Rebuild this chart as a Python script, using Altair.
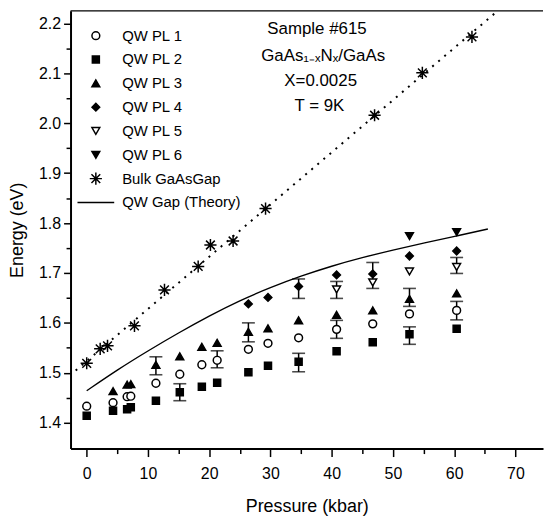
import altair as alt
import pandas as pd

# ---------------- data ----------------
series_names = ["QW PL 1", "QW PL 2", "QW PL 3", "QW PL 4", "QW PL 5",
                "QW PL 6", "Bulk GaAsGap", "QW Gap (Theory)"]

p_all = [0, 4.3, 6.6, 7.2, 11.3, 15.2, 18.8, 21.3, 26.4, 29.6, 34.6, 40.8, 46.7, 52.7, 60.4]
pl1_e = [1.433, 1.440, 1.452, 1.453, 1.479, 1.497, 1.516, 1.525, 1.547, 1.559, 1.570, 1.587, 1.598, 1.618, 1.625]
pl2_e = [1.414, 1.424, 1.427, 1.431, 1.444, 1.461, 1.472, 1.480, 1.501, 1.514, 1.522, 1.543, 1.561, 1.577, 1.588]
pl3_p = [4.3, 6.6, 7.2, 11.3, 15.2, 18.8, 21.3, 26.4, 29.6, 34.6, 40.8, 46.7, 52.7, 60.4]
pl3_e = [1.463, 1.476, 1.477, 1.516, 1.533, 1.552, 1.560, 1.582, 1.589, 1.605, 1.616, 1.625, 1.648, 1.659]
pl4_p = [26.4, 29.6, 34.6, 40.8, 46.7, 52.7, 60.4]
pl4_e = [1.638, 1.651, 1.673, 1.696, 1.698, 1.734, 1.744]
pl5_p = [40.8, 46.7, 52.7, 60.4]
pl5_e = [1.667, 1.681, 1.703, 1.712]
pl6_p = [52.7, 60.4]
pl6_e = [1.774, 1.782]
bulk_p = [0, 2.2, 3.4, 7.8, 12.7, 18.2, 20.2, 23.9, 29.2, 47.0, 54.8, 62.9]
bulk_e = [1.519, 1.548, 1.554, 1.594, 1.666, 1.713, 1.756, 1.764, 1.829, 2.016, 2.101, 2.173]
theory_p = [0, 5, 10, 15, 20, 25, 30, 35, 40, 45, 50, 55, 60, 65.5]
theory_e = [1.464, 1.506, 1.544, 1.580, 1.614, 1.645, 1.671, 1.694, 1.714, 1.731, 1.746, 1.760, 1.773, 1.788]

err_p = [11.3, 15.2, 21.3, 26.4, 34.6, 34.6, 40.8, 40.8, 46.7, 52.7, 52.7, 60.4, 60.4]
err_lo = [1.496, 1.444, 1.510, 1.562, 1.649, 1.502, 1.649, 1.569, 1.669, 1.633, 1.557, 1.699, 1.606]
err_hi = [1.532, 1.478, 1.544, 1.600, 1.688, 1.539, 1.683, 1.605, 1.721, 1.669, 1.592, 1.731, 1.643]

note_lines = ["Sample #615", "GaAs\u2081\u208b\u2093N\u2093/GaAs", "X=0.0025", "T = 9K"]
note_p = [37.6, 38.6, 38.2, 38.0]
note_e = [2.188, 2.135, 2.084, 2.034]

x_ticks = [0, 5, 10, 15, 20, 25, 30, 35, 40, 45, 50, 55, 60, 65, 70]
y_ticks = [1.4, 1.45, 1.5, 1.55, 1.6, 1.65, 1.7, 1.75, 1.8, 1.85, 1.9, 1.95, 2.0, 2.05, 2.1, 2.15, 2.2]
x_domain = [-2.64, 74.5]
y_domain = [1.348, 2.2252]

# ---------------- tables ----------------
rows = []
for name, xs, ys in [(series_names[0], p_all, pl1_e), (series_names[1], p_all, pl2_e),
                     (series_names[2], pl3_p, pl3_e), (series_names[3], pl4_p, pl4_e),
                     (series_names[4], pl5_p, pl5_e), (series_names[5], pl6_p, pl6_e),
                     (series_names[6], bulk_p, bulk_e)]:
    for a, b in zip(xs, ys):
        rows.append({"p": a, "e": b, "series": name})
points_df = pd.DataFrame(rows)
bulk_df = pd.DataFrame({"p": bulk_p, "e": bulk_e})
theory_df = pd.DataFrame({"p": theory_p, "e": theory_e})
err_df = pd.DataFrame({"p": err_p, "lo": err_lo, "hi": err_hi})
note_df = pd.DataFrame({"p": note_p, "e": note_e, "t": note_lines})

FONT = "Liberation Sans"
star = "M-1,0L1,0M0,-1L0,1M-0.72,-0.72L0.72,0.72M-0.72,0.72L0.72,-0.72"

xscale = alt.Scale(domain=x_domain, nice=False, zero=False)
yscale = alt.Scale(domain=y_domain, nice=False, zero=False)

x_axis = alt.Axis(
    values=x_ticks, title="Pressure (kbar)",
    labelExpr="datum.value % 10 == 0 ? format(datum.value, 'd') : ''",
    tickSize={"condition": {"test": "datum.value % 10 == 0", "value": 8}, "value": 5},
    labelPadding=9, titlePadding=16, grid=False, labelOverlap=False,
)
y_axis = alt.Axis(
    values=y_ticks, title="Energy (eV)",
    labelExpr="abs(datum.value*10 - round(datum.value*10)) < 0.001 ? format(datum.value, '.1f') : ''",
    tickSize={"condition": {"test": "abs(datum.value*10 - round(datum.value*10)) < 0.001", "value": 7},
              "value": 4.5},
    labelPadding=3, titlePadding=12, grid=False, labelOverlap=False,
)

X = alt.X("p:Q", scale=xscale, axis=x_axis)
Y = alt.Y("e:Q", scale=yscale, axis=y_axis)

legend = alt.Legend(
    title=None, orient="none", legendX=6, legendY=17, padding=0,
    clipHeight=16, rowPadding=8, labelFontSize=15, labelFont=FONT,
    labelColor="black", labelOffset=7, symbolStrokeColor="black",
    symbolStrokeWidth=1.5, symbolOpacity=1,
)

theory = alt.Chart(theory_df).mark_line(color="black", strokeWidth=1.4,
                                        interpolate="basis").encode(x=X, y=Y)

bulk_fit = alt.Chart(bulk_df).transform_regression(
    "p", "e", extent=[-1.8, 67.5]
).mark_line(color="black", strokeWidth=2, strokeDash=[2, 6], clip=True).encode(x=X, y=Y)

err_v = alt.Chart(err_df).mark_rule(color="black", strokeWidth=1.5).encode(
    x=X, y=alt.Y("lo:Q", scale=yscale, axis=y_axis), y2="hi:Q")
caps = alt.Chart(err_df).transform_fold(["lo", "hi"], as_=["k", "v"]).mark_tick(
    orient="horizontal", color="black", size=13, thickness=1.6).encode(
    x=X, y=alt.Y("v:Q", scale=yscale, axis=y_axis))

sh = alt.Scale(domain=series_names,
               range=["circle", "square", "triangle-up", "diamond", "triangle-down",
                      "triangle-down", star, "stroke"])
fl = alt.Scale(domain=series_names,
               range=["white", "black", "black", "black", "white", "black", "black", "black"])
stk = alt.Scale(domain=series_names, range=["black"] * 8)
sz = alt.Scale(type="ordinal", domain=series_names,
               range=[62, 50, 62, 60, 62, 62, 150, 1369])

pts = alt.Chart(points_df).mark_point(filled=False, strokeWidth=1.5, opacity=1).encode(
    x=X, y=Y,
    shape=alt.Shape("series:N", scale=sh, legend=legend),
    fill=alt.Fill("series:N", scale=fl, legend=legend),
    stroke=alt.Stroke("series:N", scale=stk, legend=legend),
    size=alt.Size("series:N", scale=sz, legend=legend),
)

notes = alt.Chart(note_df).mark_text(font=FONT, fontSize=17, color="black",
                                     align="center", baseline="middle").encode(
    x=X, y=Y, text="t:N")

top_line = alt.Chart(pd.DataFrame({"k": [0]})).mark_rule(color="black", strokeWidth=1.5).encode(
    y=alt.value(0))

chart = alt.layer(theory, bulk_fit, err_v, caps, pts, notes, top_line).properties(
    width=476, height=441, padding=0,
).configure_view(strokeWidth=0).configure_axis(
    domainColor="black", domainWidth=2, tickColor="black", tickWidth=1.5,
    labelFont=FONT, labelFontSize=16, labelColor="black",
    titleFont=FONT, titleFontSize=18, titleFontWeight="normal", titleColor="black",
)

chart.save("out.html", embed_options={"renderer": "svg", "actions": False})
